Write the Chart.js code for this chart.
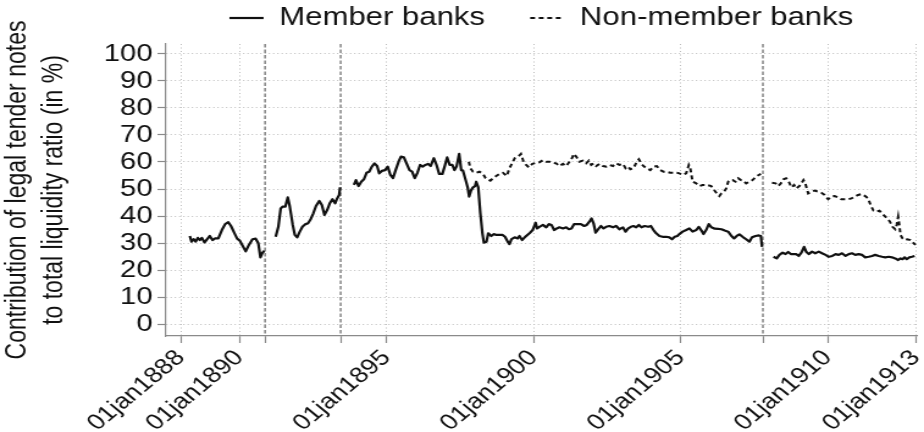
<!DOCTYPE html>
<html>
<head>
<meta charset="utf-8">
<script src="https://cdn.jsdelivr.net/npm/chart.js@4.4.1/dist/chart.umd.min.js"></script>
<style>
  html, body { margin: 0; padding: 0; background: #fff; overflow: hidden; }
  /* the figure is drawn narrow and widened horizontally, like the exported graph */
  #frame { width: 757px; height: 432px; transform: scaleX(1.2206); transform-origin: 0 0; }
</style>
</head>
<body>
<div id="frame"><canvas id="chart" width="757" height="432"></canvas></div>
<script>
// Call-report dates as decimal years; null marks a break in the series.
const memberDates = [
  1888.31, 1888.37, 1888.44, 1888.51, 1888.58, 1888.65, 1888.72, 1888.81, 1888.90, 1888.99,
  1889.08, 1889.17, 1889.28, 1889.40, 1889.51, 1889.62, 1889.71, 1889.83, 1889.92, 1890.01,
  1890.10, 1890.21, 1890.32, 1890.44, 1890.55, 1890.64, 1890.71, 1890.78, 1890.85,
  1891.00,
  1891.23, 1891.32, 1891.40, 1891.47, 1891.56, 1891.64, 1891.71, 1891.81, 1891.88, 1891.96,
  1892.05, 1892.14, 1892.23, 1892.33, 1892.42, 1892.51, 1892.60, 1892.71, 1892.80, 1892.89,
  1892.98, 1893.07, 1893.16, 1893.25, 1893.32, 1893.39, 1893.42,
  1893.65,
  1893.89, 1893.96, 1894.05, 1894.14, 1894.23, 1894.32, 1894.41, 1894.50, 1894.59, 1894.68,
  1894.75, 1894.84, 1894.95, 1895.04, 1895.13, 1895.22, 1895.31, 1895.41, 1895.49, 1895.59,
  1895.68, 1895.78, 1895.87, 1895.96, 1896.05, 1896.14, 1896.23, 1896.32, 1896.41, 1896.50,
  1896.61, 1896.70, 1896.79, 1896.90, 1896.99, 1897.06, 1897.15, 1897.24, 1897.31, 1897.38,
  1897.47, 1897.54, 1897.60, 1897.69, 1897.76, 1897.81, 1897.87, 1897.94, 1898.01, 1898.05,
  1898.12, 1898.19, 1898.26, 1898.31, 1898.40, 1898.46, 1898.56, 1898.65, 1898.73, 1898.82,
  1898.94, 1899.03, 1899.12, 1899.18, 1899.25, 1899.36, 1899.46, 1899.52, 1899.61, 1899.70,
  1899.79, 1899.88, 1899.97, 1900.07, 1900.12, 1900.20, 1900.32, 1900.43, 1900.52, 1900.61,
  1900.70, 1900.79, 1900.88, 1901.00, 1901.11, 1901.20, 1901.29, 1901.38, 1901.50, 1901.61,
  1901.72, 1901.81, 1901.90, 1901.97, 1902.04, 1902.11, 1902.20, 1902.29, 1902.38, 1902.47,
  1902.58, 1902.70, 1902.81, 1902.92, 1903.04, 1903.13, 1903.22, 1903.31, 1903.40, 1903.49,
  1903.58, 1903.67, 1903.78, 1903.90, 1903.99, 1904.08, 1904.17, 1904.28, 1904.39, 1904.51,
  1904.62, 1904.71, 1904.80, 1904.89, 1904.96, 1905.07, 1905.19, 1905.30, 1905.41, 1905.53,
  1905.62, 1905.71, 1905.78, 1905.87, 1905.96, 1906.05, 1906.16, 1906.28, 1906.39, 1906.50,
  1906.62, 1906.73, 1906.82, 1906.91, 1907.00, 1907.11, 1907.23, 1907.34, 1907.43, 1907.55,
  1907.66, 1907.73, 1907.77,
  1907.95,
  1908.16, 1908.27, 1908.36, 1908.47, 1908.57, 1908.66, 1908.75, 1908.86, 1908.93, 1909.02,
  1909.11, 1909.20, 1909.27, 1909.36, 1909.47, 1909.58, 1909.70, 1909.81, 1909.93, 1910.04,
  1910.16, 1910.27, 1910.38, 1910.49, 1910.61, 1910.72, 1910.83, 1910.94, 1911.06, 1911.17,
  1911.28, 1911.40, 1911.51, 1911.62, 1911.74, 1911.85, 1911.96, 1912.08, 1912.19, 1912.30,
  1912.40, 1912.48, 1912.55, 1912.62, 1912.69, 1912.78, 1912.87, 1912.96
];
const memberValues = [
  32.6, 30.5, 31.4, 30.5, 31.9, 31.1, 31.9, 30.2, 31.4, 32.6,
  31.1, 31.7, 31.7, 34.8, 37.0, 37.7, 36.3, 33.6, 31.6, 30.9,
  29.1, 26.9, 29.3, 31.4, 31.6, 29.9, 24.7, 26.4, 27.1,
  null,
  32.3, 36.0, 42.8, 43.5, 43.5, 46.9, 43.5, 36.7, 33.0, 32.1,
  34.2, 36.0, 36.9, 37.3, 38.8, 41.0, 43.7, 45.6, 44.1, 40.4,
  42.2, 44.7, 46.2, 44.7, 46.5, 47.8, 50.6,
  null,
  51.5, 53.3, 51.1, 52.7, 53.6, 56.0, 56.4, 58.3, 59.5, 58.5,
  55.8, 56.7, 57.0, 58.3, 55.2, 54.0, 57.0, 60.1, 62.0, 61.7,
  59.5, 57.0, 56.4, 54.0, 56.0, 58.9, 58.3, 58.9, 59.3, 58.5,
  61.4, 58.9, 55.6, 55.6, 58.9, 61.7, 58.9, 58.9, 57.0, 58.3,
  63.0, 57.0, 56.8, 53.3, 50.6, 47.2, 49.4, 50.6, 51.1, 52.7,
  50.6, 41.0, 33.6, 30.1, 30.5, 33.6, 32.6, 33.3, 33.0, 33.0,
  33.0, 32.3, 30.5, 29.6, 31.4, 32.1, 31.7, 32.6, 31.1, 32.1,
  33.0, 33.8, 34.8, 37.5, 35.4, 36.0, 36.7, 35.8, 37.0, 36.7,
  34.8, 35.4, 35.8, 35.4, 35.8, 35.1, 35.4, 37.0, 37.0, 37.0,
  36.3, 36.7, 37.9, 39.1, 37.3, 33.8, 35.1, 36.3, 35.4, 36.0,
  36.3, 35.8, 36.3, 35.1, 35.8, 34.2, 35.4, 36.0, 36.3, 35.8,
  36.7, 35.8, 36.3, 36.0, 36.3, 34.8, 33.6, 32.6, 32.3, 32.3,
  32.1, 31.4, 32.3, 32.6, 33.3, 34.2, 34.8, 35.4, 34.2, 34.8,
  36.0, 34.6, 33.3, 34.8, 37.0, 35.8, 35.3, 35.2, 35.1, 34.6,
  34.2, 32.6, 31.7, 32.6, 33.2, 32.3, 31.4, 30.5, 32.1, 32.6,
  32.8, 32.6, 28.6,
  null,
  24.9, 24.3, 25.6, 26.4, 25.9, 26.7, 25.9, 25.9, 25.9, 25.2,
  26.4, 28.6, 26.8, 25.9, 26.8, 26.2, 26.8, 26.2, 25.6, 24.9,
  25.2, 25.9, 25.6, 26.2, 25.2, 25.9, 26.2, 25.6, 25.9, 25.6,
  24.7, 24.9, 25.2, 25.6, 25.2, 24.9, 24.7, 24.9, 24.7, 24.3,
  23.7, 24.3, 24.0, 24.7, 24.0, 24.7, 24.9, 25.2
];

const nonMemberDates = [
  1897.80, 1897.85, 1897.94, 1898.05, 1898.16, 1898.28, 1898.37, 1898.44, 1898.53, 1898.62,
  1898.73, 1898.84, 1898.96, 1899.05, 1899.09, 1899.18, 1899.28, 1899.36, 1899.48, 1899.57,
  1899.66, 1899.75, 1899.84, 1899.96, 1900.09, 1900.20, 1900.32, 1900.43, 1900.54, 1900.66,
  1900.77, 1900.88, 1901.00, 1901.11, 1901.22, 1901.32, 1901.36, 1901.45, 1901.56, 1901.68,
  1901.79, 1901.88, 1901.96, 1902.04, 1902.13, 1902.24, 1902.36, 1902.47, 1902.58, 1902.70,
  1902.81, 1902.92, 1903.04, 1903.13, 1903.22, 1903.29, 1903.40, 1903.51, 1903.58, 1903.67,
  1903.76, 1903.85, 1903.97, 1904.08, 1904.19, 1904.31, 1904.42, 1904.53, 1904.65, 1904.76,
  1904.87, 1904.96, 1905.07, 1905.19, 1905.28, 1905.33, 1905.37, 1905.41, 1905.53, 1905.64,
  1905.75, 1905.89, 1906.04, 1906.14, 1906.23, 1906.32, 1906.39, 1906.48, 1906.55, 1906.62,
  1906.69, 1906.77, 1906.87, 1906.96, 1907.05, 1907.14, 1907.23, 1907.34, 1907.45, 1907.57,
  1907.66, 1907.73,
  1907.95,
  1908.11, 1908.23, 1908.32, 1908.41, 1908.50, 1908.59, 1908.68, 1908.77, 1908.86, 1908.93,
  1909.04, 1909.11, 1909.18, 1909.24, 1909.34, 1909.45, 1909.56, 1909.68, 1909.79, 1909.90,
  1910.02, 1910.13, 1910.24, 1910.36, 1910.47, 1910.58, 1910.70, 1910.81, 1910.92, 1911.04,
  1911.15, 1911.28, 1911.38, 1911.46, 1911.56, 1911.65, 1911.76, 1911.85, 1911.94, 1912.03,
  1912.12, 1912.21, 1912.30, 1912.35, 1912.40, 1912.44, 1912.48, 1912.55, 1912.62, 1912.71,
  1912.82, 1912.93, 1912.99
];
const nonMemberValues = [
  60.1, 57.7, 56.4, 56.0, 56.4, 55.6, 54.0, 53.6, 53.1, 54.0,
  54.8, 55.6, 56.0, 55.2, 54.8, 57.7, 59.7, 61.4, 62.0, 63.0,
  60.1, 58.9, 58.0, 59.3, 59.7, 59.9, 60.7, 60.1, 60.1, 59.7,
  59.5, 58.5, 59.3, 58.5, 60.1, 61.7, 63.0, 62.0, 60.1, 60.5,
  59.5, 60.5, 58.9, 59.5, 58.5, 59.3, 58.5, 58.3, 58.9, 58.5,
  59.5, 58.9, 59.3, 57.7, 58.3, 57.3, 57.7, 60.1, 61.0, 59.3,
  58.3, 57.7, 57.0, 58.3, 58.5, 57.0, 56.4, 56.4, 56.0, 56.0,
  56.0, 55.8, 55.2, 55.8, 58.9, 57.7, 55.2, 52.7, 52.1, 51.1,
  51.5, 51.5, 51.1, 49.6, 48.4, 47.4, 48.4, 49.0, 50.2, 52.7,
  53.3, 53.3, 52.7, 54.0, 53.3, 53.1, 52.1, 52.7, 53.3, 54.6,
  55.2, 55.6,
  null,
  52.3, 52.1, 51.1, 52.1, 53.6, 54.0, 52.7, 50.6, 51.5, 50.2,
  51.1, 52.1, 53.3, 52.1, 48.4, 49.0, 49.4, 49.0, 48.6, 47.8,
  46.2, 47.2, 47.4, 46.9, 46.2, 46.2, 46.2, 46.5, 47.2, 47.8,
  48.1, 47.4, 46.5, 44.1, 42.0, 41.6, 42.0, 41.0, 40.0, 39.1,
  37.9, 36.0, 35.1, 36.7, 39.7, 36.7, 33.0, 31.7, 31.1, 31.4,
  31.1, 29.9, 29.3
];

// Banking panics marked by vertical dashed lines
const crisisDates = [1890.87, 1893.44, 1907.80];

// Labelled x ticks
const tickYears = [1888, 1890, 1895, 1900, 1905, 1910, 1913];
const tickLabels = ['01jan1888', '01jan1890', '01jan1895', '01jan1900', '01jan1905', '01jan1910', '01jan1913'];
const yTicks = [0, 10, 20, 30, 40, 50, 60, 70, 80, 90, 100];

const seriesNames = ['Member banks', 'Non-member banks'];
const yTitle = ['Contribution of legal tender notes', 'to total liquidity ratio (in %)'];

const FONT = "'Liberation Sans', Arial, Helvetica, sans-serif";
const INK = '#111111';
const AXIS = '#8a8a8a';
const GRID = '#bdbdbd';

function toPoints(dates, values) {
  return dates.map((d, i) => ({ x: d, y: values[i] }));
}

const crisisLines = {
  id: 'crisisLines',
  beforeDatasetsDraw(chart) {
    const { ctx, chartArea: a, scales: { x } } = chart;
    ctx.save();
    ctx.strokeStyle = '#8c8c8c';
    ctx.lineWidth = 1.6;
    ctx.setLineDash([3.5, 2]);
    crisisDates.forEach(d => {
      const px = x.getPixelForValue(d);
      ctx.beginPath();
      ctx.moveTo(px, a.top);
      ctx.lineTo(px, a.bottom);
      ctx.stroke();
    });
    ctx.restore();
  }
};

// Centre the legend over the plot region and lift it into the top margin
const legendPlacement = {
  id: 'legendPlacement',
  afterLayout(chart) {
    const lg = chart.legend;
    if (!lg) return;
    const a = chart.chartArea;
    const lab = lg.options.labels;
    lg.left = a.left;
    lg.right = a.right;
    lg.width = a.right - a.left;
    lg.top = 18 - lab.padding - lab.font.size / 2;
    lg.bottom = a.top;
    lg.height = lg.bottom - lg.top;
  }
};

new Chart(document.getElementById('chart'), {
  type: 'line',
  data: {
    datasets: [
      {
        label: seriesNames[0],
        data: toPoints(memberDates, memberValues),
        borderColor: INK,
        backgroundColor: INK,
        borderWidth: 2.2,
        pointRadius: 0,
        tension: 0,
        borderJoinStyle: 'round'
      },
      {
        label: seriesNames[1],
        data: toPoints(nonMemberDates, nonMemberValues),
        borderColor: INK,
        backgroundColor: INK,
        borderWidth: 2,
        borderDash: [4, 3],
        pointRadius: 0,
        tension: 0
      }
    ]
  },
  options: {
    responsive: false,
    animation: false,
    devicePixelRatio: 1,
    layout: { padding: { left: 0, right: 6, top: 0, bottom: 0 } },
    plugins: {
      legend: {
        position: 'top',
        align: 'center',
        maxHeight: 44,
        labels: {
          usePointStyle: true,
          pointStyle: 'line',
          pointStyleWidth: 28,
          padding: 37,
          color: INK,
          font: { family: FONT, size: 25.5 },
          generateLabels(chart) {
            const items = Chart.defaults.plugins.legend.labels.generateLabels(chart);
            return items.map(item => {
              const ds = chart.data.datasets[item.datasetIndex];
              item.lineDash = ds.borderDash || [];
              item.lineWidth = ds.borderWidth;
              item.strokeStyle = ds.borderColor;
              return item;
            });
          }
        }
      },
      tooltip: { enabled: false }
    },
    scales: {
      x: {
        type: 'linear',
        min: 1887.5,
        max: 1913.03,
        afterBuildTicks(scale) {
          scale.ticks = tickYears.concat(crisisDates).sort((a, b) => a - b).map(v => ({ value: v }));
        },
        afterFit(scale) {
          scale.height = 96;
          scale.paddingLeft = 0;
          scale.paddingRight = 0;
        },
        ticks: {
          autoSkip: false,
          minRotation: 45,
          maxRotation: 45,
          padding: 2,
          color: INK,
          font: { family: FONT, size: 22 },
          callback(value) {
            const i = tickYears.indexOf(value);
            return i >= 0 ? tickLabels[i] : '';
          }
        },
        grid: {
          color: ctx => (ctx.tick && crisisDates.includes(ctx.tick.value)) ? 'rgba(0,0,0,0)' : GRID,
          lineWidth: 1,
          tickLength: 7,
          tickColor: AXIS,
          tickWidth: 1.2
        },
        border: { display: true, color: AXIS, width: 1.2, dash: [1, 2.5] }
      },
      y: {
        min: -4.44,
        max: 103.7,
        afterBuildTicks(scale) {
          scale.ticks = yTicks.map(v => ({ value: v }));
        },
        afterFit(scale) {
          scale.width = 136;
        },
        ticks: {
          autoSkip: false,
          padding: 4,
          color: INK,
          font: { family: FONT, size: 24 }
        },
        grid: {
          color: GRID,
          lineWidth: 1,
          tickLength: 7,
          tickColor: AXIS,
          tickWidth: 1.2
        },
        border: { display: true, color: AXIS, width: 1.2, dash: [1, 2.5] },
        title: {
          display: true,
          text: yTitle,
          color: INK,
          font: { family: FONT, size: 23, lineHeight: 1.3 },
          padding: { top: 0, bottom: 0 }
        }
      }
    }
  },
  plugins: [crisisLines, legendPlacement]
});
</script>
</body>
</html>
